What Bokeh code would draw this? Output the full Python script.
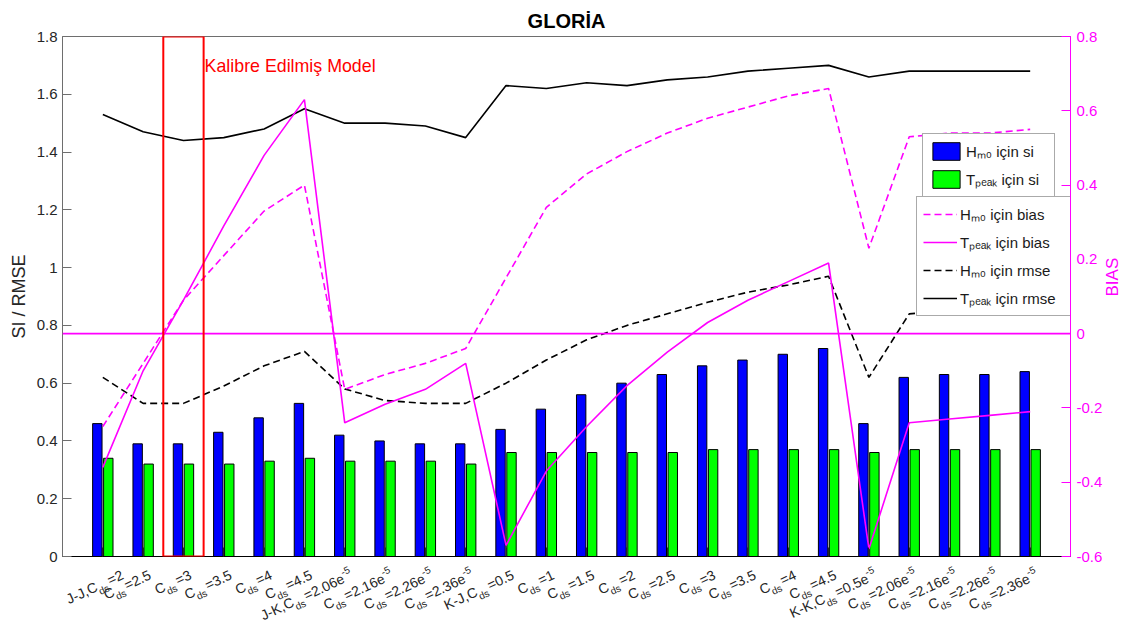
import math
from bokeh.plotting import figure
from bokeh.layouts import column
from bokeh.models import (Range1d, LinearAxis, FixedTicker, ColumnDataSource,
                          LabelSet, Label, Legend, LegendItem, Span, BoxAnnotation)
from bokeh.core.properties import value
from bokeh.transform import dodge
from bokeh.embed import file_html
from bokeh.resources import INLINE

# ---------------- texts ----------------
title_text = "GLORİA"
calib_text = "Kalibre Edilmiş Model"
left_label = "SI / RMSE"
right_label = "BIAS"

# ---------------- categories / tick labels ----------------
tick_prefix = ["J-J,C", "C", "C", "C", "C", "C",
               "J-K,C", "C", "C", "C",
               "K-J,C", "C", "C", "C", "C", "C", "C", "C", "C",
               "K-K,C", "C", "C", "C", "C"]
tick_sub = "ds"
tick_value = ["=2", "=2.5", "=3", "=3.5", "=4", "=4.5",
              "=2.06e", "=2.16e", "=2.26e", "=2.36e",
              "=0.5", "=1", "=1.5", "=2", "=2.5", "=3", "=3.5", "=4", "=4.5",
              "=0.5e", "=2.06e", "=2.16e", "=2.26e", "=2.36e"]
tick_exp = ["", "", "", "", "", "",
            "-5", "-5", "-5", "-5",
            "", "", "", "", "", "", "", "", "",
            "-5", "-5", "-5", "-5", "-5"]
calibrated_index = 2

left_ticks = [0, 0.2, 0.4, 0.6, 0.8, 1, 1.2, 1.4, 1.6, 1.8]
left_tick_labels = ["0", "0.2", "0.4", "0.6", "0.8", "1", "1.2", "1.4", "1.6", "1.8"]
right_ticks = [-0.6, -0.4, -0.2, 0, 0.2, 0.4, 0.6, 0.8]
right_tick_labels = ["-0.6", "-0.4", "-0.2", "0", "0.2", "0.4", "0.6", "0.8"]

# ---------------- series ----------------
hm0_si = [0.46, 0.39, 0.39, 0.43, 0.48, 0.53, 0.42, 0.40, 0.39, 0.39, 0.44, 0.51,
          0.56, 0.60, 0.63, 0.66, 0.68, 0.70, 0.72, 0.46, 0.62, 0.63, 0.63, 0.64]
tpeak_si = [0.34, 0.32, 0.32, 0.32, 0.33, 0.34, 0.33, 0.33, 0.33, 0.32, 0.36, 0.36,
            0.36, 0.36, 0.36, 0.37, 0.37, 0.37, 0.37, 0.36, 0.37, 0.37, 0.37, 0.37]
hm0_bias = [-0.25, -0.08, 0.09, 0.21, 0.33, 0.40, -0.15, -0.11, -0.08, -0.04, 0.15, 0.34,
            0.43, 0.49, 0.54, 0.58, 0.61, 0.64, 0.66, 0.23, 0.53, 0.54, 0.54, 0.55]
tpeak_bias = [-0.36, -0.10, 0.09, 0.29, 0.48, 0.63, -0.24, -0.19, -0.15, -0.08, -0.57, -0.37,
              -0.25, -0.14, -0.05, 0.03, 0.09, 0.14, 0.19, -0.58, -0.24, -0.23, -0.22, -0.21]
hm0_rmse = [0.62, 0.53, 0.53, 0.59, 0.66, 0.71, 0.58, 0.54, 0.53, 0.53, 0.60, 0.68,
            0.75, 0.80, 0.84, 0.88, 0.915, 0.94, 0.97, 0.62, 0.84, 0.85, 0.86, 0.86]
tpeak_rmse = [1.53, 1.47, 1.44, 1.45, 1.48, 1.55, 1.50, 1.50, 1.49, 1.45, 1.63, 1.62,
              1.64, 1.63, 1.65, 1.66, 1.68, 1.69, 1.70, 1.66, 1.68, 1.68, 1.68, 1.68]

legend_labels = ["Hₘ₀ için si", "Tₚₑₐₖ için si", "Hₘ₀ için bias",
                 "Tₚₑₐₖ için bias", "Hₘ₀ için rmse", "Tₚₑₐₖ için rmse"]

# ---------------- style / layout ----------------
FONT = "Liberation Sans"
MAGENTA = "#FF00FF"
AXC = "#262626"
W = 1134
BL, BR, BT, BB = 62, 63, 36, 8
MAIN_H = 556 + BB
LAB_H = 60

xs = list(range(1, len(tick_value) + 1))
x_end = len(xs) + 1
src = ColumnDataSource(dict(x=xs, hm0_si=hm0_si, tpeak_si=tpeak_si, hm0_bias=hm0_bias,
                            tpeak_bias=tpeak_bias, hm0_rmse=hm0_rmse, tpeak_rmse=tpeak_rmse))

p = figure(width=W, height=MAIN_H,
           x_range=Range1d(0, x_end),
           y_range=Range1d(left_ticks[0], left_ticks[-1]),
           output_backend="svg", toolbar_location=None,
           min_border_left=BL, min_border_right=BR, min_border_top=BT, min_border_bottom=BB)
p.extra_y_ranges = {"bias": Range1d(right_ticks[0], right_ticks[-1])}
p.xgrid.visible = False
p.ygrid.visible = False
p.outline_line_color = "#6e6e6e"
p.outline_line_width = 1
p.background_fill_color = "white"
p.border_fill_color = "white"

p.title.text = title_text
p.title.align = "center"
p.title.text_font = FONT
p.title.text_font_size = "20px"
p.title.text_font_style = "bold"
p.title.text_color = "black"
p.title.standoff = 9

# left axis
ya = p.yaxis[0]
ya.ticker = FixedTicker(ticks=left_ticks)
ya.major_label_overrides = dict(zip(left_ticks, left_tick_labels))
ya.minor_tick_line_color = None
ya.major_tick_in = 9
ya.major_tick_out = 0
ya.major_tick_line_color = "#6e6e6e"
ya.axis_line_color = "#6e6e6e"
ya.major_label_text_font = FONT
ya.major_label_text_font_size = "15px"
ya.major_label_text_color = AXC
ya.major_label_standoff = 5
ya.axis_label = left_label
ya.axis_label_text_font = FONT
ya.axis_label_text_font_size = "18px"
ya.axis_label_text_font_style = "normal"
ya.axis_label_text_color = AXC
ya.axis_label_standoff = 5

# bottom axis (labels drawn in the strip below)
xa = p.xaxis[0]
xa.ticker = FixedTicker(ticks=xs)
xa.major_label_overrides = {x: "" for x in xs}
xa.major_label_text_font_size = "0px"
xa.major_label_standoff = 0
xa.minor_tick_line_color = None
xa.major_tick_in = 9
xa.major_tick_out = 0
xa.major_tick_line_color = AXC
xa.axis_line_color = "black"
xa.axis_line_width = 1

# right axis (ticks)
ra = LinearAxis(y_range_name="bias", ticker=FixedTicker(ticks=right_ticks),
                major_label_overrides=dict(zip(right_ticks, right_tick_labels)))
ra.minor_tick_line_color = None
ra.major_tick_in = 9
ra.major_tick_out = 0
ra.major_tick_line_color = MAGENTA
ra.axis_line_color = MAGENTA
ra.major_label_text_color = MAGENTA
ra.major_label_text_font = FONT
ra.major_label_text_font_size = "15px"
ra.major_label_standoff = 6
p.add_layout(ra, "right")

# right axis title (separate, line-less axis so the title can sit where MATLAB puts it)
rt = LinearAxis(y_range_name="bias", ticker=FixedTicker(ticks=[]),
                bounds=(right_ticks[0], 0.68))
rt.axis_line_color = None
rt.major_tick_line_color = None
rt.minor_tick_line_color = None
rt.major_tick_in = 0
rt.major_tick_out = 0
rt.major_label_text_font_size = "0px"
rt.major_label_standoff = 0
rt.axis_label = right_label
rt.axis_label_text_font = FONT
rt.axis_label_text_font_size = "17px"
rt.axis_label_text_font_style = "normal"
rt.axis_label_text_color = MAGENTA
rt.axis_label_standoff = 7
if hasattr(rt, "axis_label_orientation"):
    rt.axis_label_orientation = math.pi / 2
p.add_layout(rt, "right")

# bars
bw = 0.233
off = 0.136
rb = p.vbar(x=dodge("x", -off), top="hm0_si", width=bw, source=src,
            fill_color="#0000FF", line_color="black", line_width=1)
rg = p.vbar(x=dodge("x", off), top="tpeak_si", width=bw, source=src,
            fill_color="#00FF00", line_color="black", line_width=1)

# zero bias reference
p.add_layout(Span(location=0, dimension="width", y_range_name="bias",
                  line_color=MAGENTA, line_width=1.6))

# lines
l_tr = p.line("x", "tpeak_rmse", source=src, line_color="black", line_width=1.6)
l_hr = p.line("x", "hm0_rmse", source=src, line_color="black", line_width=1.6,
              line_dash="7 4")
l_hb = p.line("x", "hm0_bias", source=src, line_color=MAGENTA, line_width=1.6,
              line_dash="7 4", y_range_name="bias")
l_tb = p.line("x", "tpeak_bias", source=src, line_color=MAGENTA, line_width=1.6,
              y_range_name="bias")

# calibrated model box + text
p.add_layout(BoxAnnotation(left=xs[calibrated_index] - 0.5, right=xs[calibrated_index] + 0.5,
                           bottom=left_ticks[0], top=left_ticks[-1],
                           fill_alpha=0, line_color="#FF0000", line_alpha=1, line_width=2))
p.add_layout(Label(x=xs[calibrated_index] + 0.5, y=1.697, x_offset=1, text=calib_text,
                   text_color="#FF0000", text_font=FONT, text_font_size="17.8px",
                   text_baseline="middle", text_align="left"))

# legends
def mk_legend(items, loc, lw):
    return Legend(items=items, location=loc, orientation="vertical",
                  glyph_width=34, glyph_height=22, padding=6, spacing=6,
                  label_standoff=3, margin=0, label_height=22, label_width=lw,
                  border_line_color="#555555", border_line_width=1,
                  background_fill_color="white", background_fill_alpha=1,
                  label_text_font=FONT, label_text_font_size="15px",
                  label_text_color="#1a1a1a")

leg1 = mk_legend([LegendItem(label=legend_labels[0], renderers=[rb]),
                  LegendItem(label=legend_labels[1], renderers=[rg])], (860, 359), 82)
leg2 = mk_legend([LegendItem(label=legend_labels[2], renderers=[l_hb]),
                  LegendItem(label=legend_labels[3], renderers=[l_tb]),
                  LegendItem(label=legend_labels[4], renderers=[l_hr]),
                  LegendItem(label=legend_labels[5], renderers=[l_tr])], (854, 240), 107)
p.add_layout(leg2)
p.add_layout(leg1)

# ---------------- strip with rotated category labels ----------------
lab = figure(width=W, height=LAB_H,
             x_range=p.x_range,
             y_range=Range1d(-(BB + LAB_H), -BB),
             output_backend="svg", toolbar_location=None,
             x_axis_type=None, y_axis_type=None,
             min_border_left=BL, min_border_right=BR, min_border_top=0, min_border_bottom=0)
lab.outline_line_color = None
lab.background_fill_color = "white"
lab.border_fill_color = "white"

CW = {"C": 0.722, "d": 0.556, "s": 0.5, "=": 0.584, ".": 0.278, "e": 0.556,
      "-": 0.333, "J": 0.5, "K": 0.667, ",": 0.278}

def tw(t, size):
    return sum(CW.get(ch, 0.556) for ch in t) * size

MAIN, SMALL = 14, 10
ANG = math.radians(25)
ca, sa = math.cos(ANG), math.sin(ANG)
AX, AY = 9, -22
SUB_V, EXP_V, GAP = -5, 7, 2
ppu = (W - BL - BR) / x_end

rows = {k: dict(x=[], y=[], text=[], xo=[], yo=[]) for k in ("pre", "sub", "val", "exp")}
for xc, pre, val, ex in zip(xs, tick_prefix, tick_value, tick_exp):
    segs = [("pre", pre, MAIN, 0, 0), ("sub", tick_sub, SMALL, SUB_V, GAP),
            ("val", val, MAIN, 0, 0)]
    if ex:
        segs.append(("exp", ex, SMALL, EXP_V, 0))
    total = sum(tw(t, sz) + g for _, t, sz, _, g in segs)
    # keep the whole label inside the strip (move it rather than cut it)
    left_px = xc * ppu + AX - total * ca - 11 * sa
    shift = max(0.0, 2 - left_px)
    u = -total
    for kind, t, sz, v, g in segs:
        r = rows[kind]
        r["x"].append(xc)
        r["y"].append(AY)
        r["text"].append(t)
        r["xo"].append(AX + shift + u * ca - v * sa)
        r["yo"].append(u * sa + v * ca)
        u += tw(t, sz) + g

for kind, size in (("pre", MAIN), ("sub", SMALL), ("val", MAIN), ("exp", SMALL)):
    lab.add_layout(LabelSet(x="x", y="y", text="text", x_offset="xo", y_offset="yo",
                            source=ColumnDataSource(rows[kind]), angle=ANG,
                            text_align="left", text_baseline="alphabetic",
                            text_font=value(FONT), text_font_size=f"{size}px",
                            text_color=AXC))

layout = column(p, lab, spacing=0)
open("out.html", "w").write(file_html(layout, INLINE))
